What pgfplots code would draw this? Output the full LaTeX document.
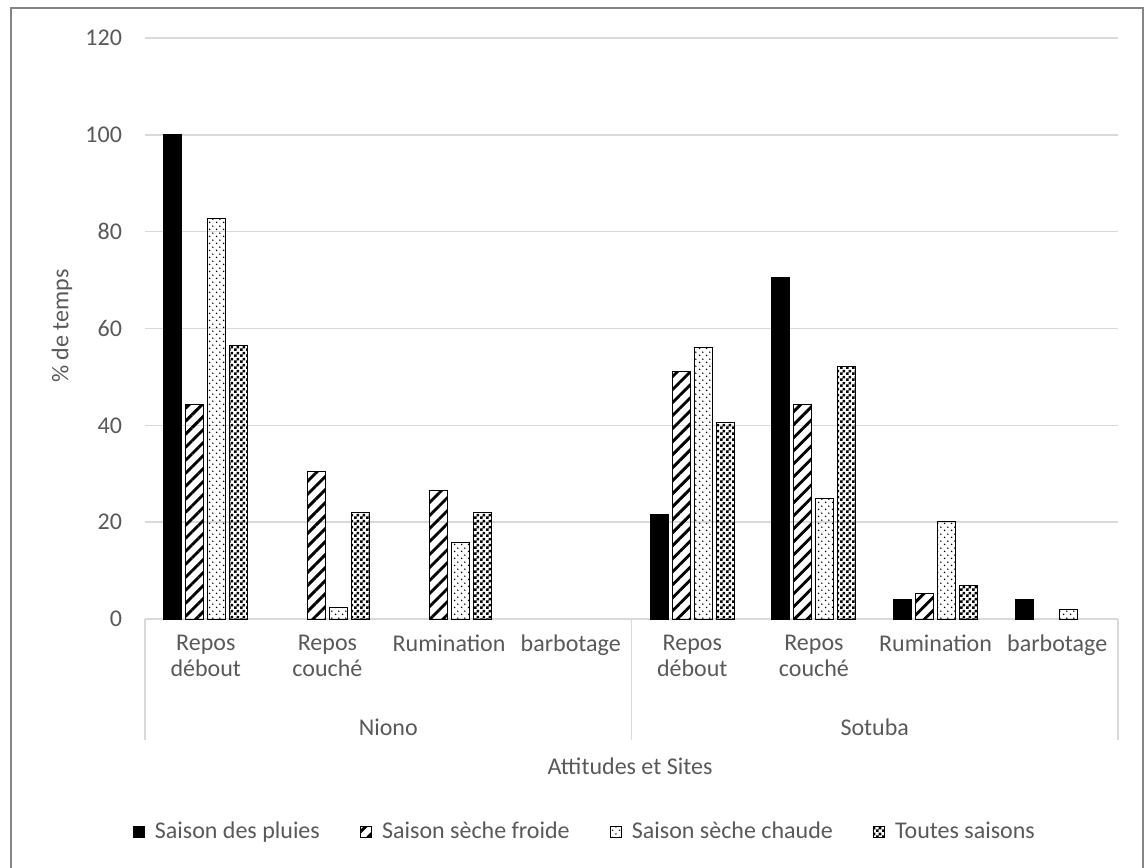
\documentclass[border=0pt]{standalone}
\usepackage{pgfplots}
\pgfplotsset{compat=1.18}
\usepackage{fontspec}
\setmainfont{Carlito}
\usetikzlibrary{patterns,patterns.meta}

\definecolor{txtgray}{HTML}{595959}
\definecolor{gridgray}{HTML}{D9D9D9}
\definecolor{framegray}{HTML}{858585}

% small checkerboard fill
\pgfdeclarepatternformonly{checker}{\pgfqpoint{0pt}{0pt}}{\pgfqpoint{3pt}{3pt}}{\pgfqpoint{3pt}{3pt}}{%
  \pgfpathrectangle{\pgfqpoint{0pt}{0pt}}{\pgfqpoint{1.5pt}{1.5pt}}%
  \pgfpathrectangle{\pgfqpoint{1.5pt}{1.5pt}}{\pgfqpoint{1.5pt}{1.5pt}}%
  \pgfusepath{fill}}
% staggered fine dots
\pgfdeclarepatternformonly{fdots}{\pgfqpoint{0pt}{0pt}}{\pgfqpoint{3.6pt}{3.6pt}}{\pgfqpoint{3.6pt}{3.6pt}}{%
  \pgfpathcircle{\pgfqpoint{0.9pt}{0.9pt}}{0.42pt}%
  \pgfpathcircle{\pgfqpoint{2.7pt}{2.7pt}}{0.42pt}%
  \pgfusepath{fill}}

\begin{document}
\begin{tikzpicture}
\path[use as bounding box] (0pt,0pt) rectangle (572pt,433.5pt);
\draw[framegray, line width=1.3pt] (5.5pt,-5pt) -- (5.5pt,429.5pt) -- (571.5pt,429.5pt) -- (571.5pt,-5pt);
\begin{axis}[
  at={(72.5pt,124pt)}, anchor=south west,
  scale only axis, width=486.5pt, height=290.5pt,
  xmin=-0.5, xmax=7.5, ymin=0, ymax=120,
  ytick={0,20,...,120},
  xtick={0,...,7},
  xticklabels={Repos\\débout, Repos\\couché, Rumination, barbotage, Repos\\débout, Repos\\couché, Rumination, barbotage},
  font=\fontsize{12}{12.8}\selectfont,
  every tick label/.append style={text=txtgray},
  x tick label style={align=center, yshift=-4.5pt},
  y tick label style={/pgf/number format/assume math mode=true, xshift=-8pt},
  major tick length=0pt,
  axis x line*=bottom, axis y line*=left,
  x axis line style={-, draw=gridgray, line width=0.8pt},
  y axis line style={draw=none},
  ymajorgrids, grid style={gridgray, line width=0.8pt},
  ybar=2pt, bar width=9pt,
  clip=false,
  ylabel={\% de temps},
  ylabel style={at={(axis description cs:-0.0853,0.504)}, anchor=center, text=txtgray},
  xlabel={Attitudes et Sites},
  xlabel style={at={(axis description cs:0.4985,-0.253)}, anchor=center, text=txtgray},
  legend columns=4,
  legend style={draw=none, fill=none, at={(axis description cs:0.453,-0.3666)}, anchor=center,
    /tikz/every odd column/.append style={column sep=3pt},
    /tikz/every even column/.append style={column sep=18pt}, text=txtgray,
    font=\fontsize{12}{12.8}\selectfont},
  legend image code/.code={\draw[#1,line width=0.5pt] (0pt,-2.8pt) rectangle (5.6pt,2.8pt);},
]
% Saison des pluies
\addplot[draw=black, fill=black, line width=0.5pt] coordinates {(0,100) (4,21.6) (5,70.6) (6,4.1) (7,4.1)};
% Saison seche froide
\addplot[draw=black, line width=0.5pt, pattern={Lines[angle=45,distance=4.6pt,line width=1.45pt]}] coordinates {(0,44.2) (1,30.4) (2,26.6) (4,51.2) (5,44.4) (6,5.2)};
% Saison seche chaude
\addplot[draw=black, line width=0.5pt, pattern=fdots] coordinates {(0,82.7) (1,2.3) (2,15.8) (4,56.0) (5,24.9) (6,20.1) (7,2.0)};
% Toutes saisons
\addplot[draw=black, line width=0.5pt, pattern=checker] coordinates {(0,56.4) (1,22.0) (2,22.0) (4,40.6) (5,52.1) (6,6.9)};
\legend{Saison des pluies, Saison sèche froide, Saison sèche chaude, Toutes saisons}

% outer category level: separators and site names
\draw[gridgray, line width=0.8pt] (axis cs:-0.5,0) -- ({axis cs:-0.5,0} |- {axis description cs:0,-0.208});
\draw[gridgray, line width=0.8pt] (axis cs:3.5,0) -- ({axis cs:3.5,0} |- {axis description cs:0,-0.208});
\draw[gridgray, line width=0.8pt] (axis cs:7.5,0) -- ({axis cs:7.5,0} |- {axis description cs:0,-0.208});
\node[text=txtgray, anchor=center] at ({axis cs:1.5,0} |- {axis description cs:0,-0.186}) {Niono};
\node[text=txtgray, anchor=center] at ({axis cs:5.5,0} |- {axis description cs:0,-0.186}) {Sotuba};
\end{axis}
\end{tikzpicture}
\end{document}
